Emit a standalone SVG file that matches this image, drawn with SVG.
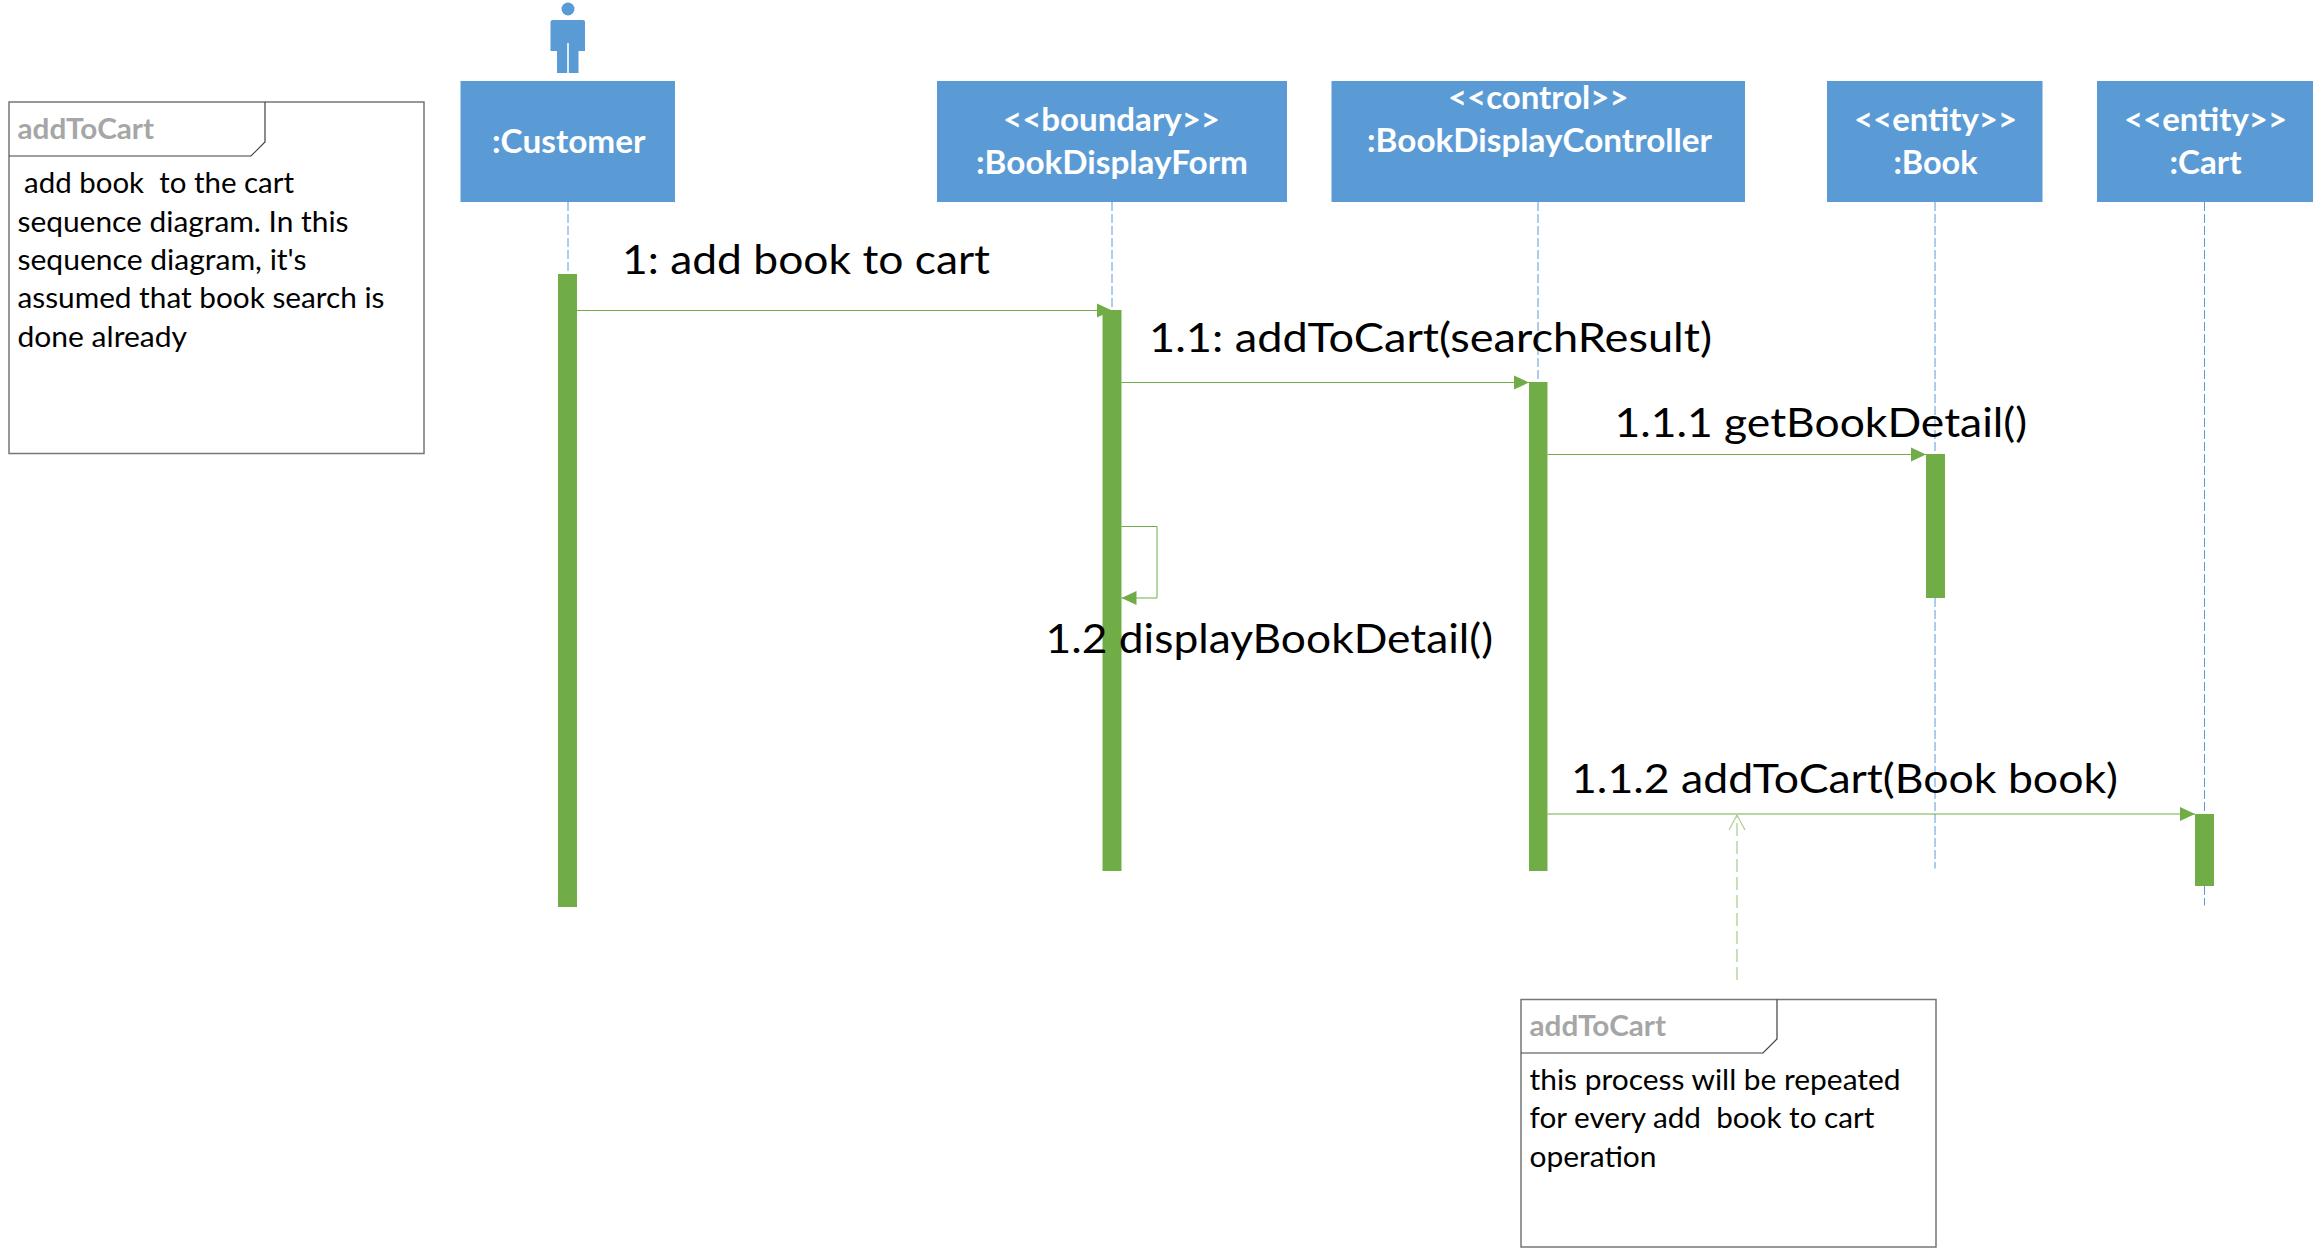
<svg xmlns="http://www.w3.org/2000/svg" width="2314" height="1249" viewBox="0 0 2314 1249">
<style>
text{font-family:Lato,"Liberation Sans",sans-serif;white-space:pre}
.box{fill:#5B9BD5}
.bt{fill:#fff;font-weight:700;font-size:33px}
.life{stroke:#5B9BD5;stroke-width:1;stroke-dasharray:9 3;fill:none}
.bar{fill:#70AD47}
.msg{stroke:#70AD47;stroke-width:1;fill:none}
.lab{fill:#000;font-size:41px}
.note{fill:#fff;stroke:#767676;stroke-width:1.5}
.tab{fill:none;stroke:#404040;stroke-width:1.2}
.nt{fill:#A6A6A6;font-weight:700;font-size:28px}
.nb{fill:#000;font-size:29px}
</style>
<defs>
<marker id="tri" markerUnits="userSpaceOnUse" markerWidth="15" markerHeight="15" refX="15" refY="7.5" orient="auto"><path d="M0 0.5L15 7.5L0 14.5Z" fill="#70AD47"/></marker>
<marker id="open" markerUnits="userSpaceOnUse" markerWidth="18" markerHeight="18" refX="16" refY="9" orient="auto"><path d="M1 1L16 9L1 17" fill="none" stroke="#A9D18E" stroke-width="1.2"/></marker>
</defs>
<g id="lifelines">
<path class="life" d="M568 202V274"/>
<path class="life" d="M1112 202V310"/>
<path class="life" d="M1538 202V382"/>
<path class="life" d="M1935 202V868.500"/>
<path class="life" d="M2204.500 202V905.500"/>
</g>
<g id="actor" fill="#5B9BD5">
<circle cx="568" cy="9" r="6.500"/>
<path d="M553 20H583Q585 20 585 22V51H578.500V73H568.800V43H567.200V73H557V51H550.500V22Q550.500 20 553 20Z"/>
</g>
<g id="customer"><rect class="box" x="460.500" y="81" width="214.500" height="121"/><text class="bt" x="492" y="153" textLength="153.500" lengthAdjust="spacingAndGlyphs">:Customer</text></g>
<g id="boundary"><rect class="box" x="937" y="81" width="350" height="121"/><text class="bt" x="1003" y="131" textLength="217" lengthAdjust="spacingAndGlyphs">&lt;&lt;boundary&gt;&gt;</text><text class="bt" x="976" y="174" textLength="272" lengthAdjust="spacingAndGlyphs">:BookDisplayForm</text></g>
<g id="control"><rect class="box" x="1331.500" y="81" width="413.500" height="121"/><text class="bt" x="1448" y="109" textLength="180.500" lengthAdjust="spacingAndGlyphs">&lt;&lt;control&gt;&gt;</text><text class="bt" x="1367" y="152" textLength="345" lengthAdjust="spacingAndGlyphs">:BookDisplayController</text></g>
<g id="book"><rect class="box" x="1827" y="81" width="215.500" height="121"/><text class="bt" x="1854" y="131" textLength="163" lengthAdjust="spacingAndGlyphs">&lt;&lt;entity&gt;&gt;</text><text class="bt" x="1893.500" y="174" textLength="84" lengthAdjust="spacingAndGlyphs">:Book</text></g>
<g id="cart"><rect class="box" x="2097" y="81" width="216" height="121"/><text class="bt" x="2124" y="131" textLength="163" lengthAdjust="spacingAndGlyphs">&lt;&lt;entity&gt;&gt;</text><text class="bt" x="2169.500" y="174" textLength="72" lengthAdjust="spacingAndGlyphs">:Cart</text></g>
<g id="activations">
<rect class="bar" x="558" y="274" width="19" height="633"/>
<rect class="bar" x="1102.500" y="310" width="19" height="561"/>
<rect class="bar" x="1529" y="382" width="18.500" height="489"/>
<rect class="bar" x="1926" y="454" width="19" height="144"/>
<rect class="bar" x="2195" y="814" width="19" height="72"/>
</g>
<g id="connectors">
<path class="msg" d="M577 310.500H1112" marker-end="url(#tri)"/>
<path class="msg" d="M1121.500 382.500H1529" marker-end="url(#tri)"/>
<path class="msg" d="M1547.500 454.500H1926" marker-end="url(#tri)"/>
<path class="msg" d="M1121.500 526.500H1157V598H1121.500" marker-end="url(#tri)"/>
<path class="msg" d="M1547.500 814H2195" marker-end="url(#tri)"/>
<path d="M1737 980V815" fill="none" stroke="#A9D18E" stroke-width="1.300" stroke-dasharray="13 5" marker-end="url(#open)"/>
</g>
<g id="labels">
<text class="lab" x="622" y="274" textLength="368" lengthAdjust="spacingAndGlyphs">1: add book to cart</text>
<text class="lab" x="1149" y="352" textLength="563" lengthAdjust="spacingAndGlyphs">1.1: addToCart(searchResult)</text>
<text class="lab" x="1614.500" y="437" textLength="412.500" lengthAdjust="spacingAndGlyphs">1.1.1 getBookDetail()</text>
<text class="lab" x="1045.500" y="653" textLength="447.500" lengthAdjust="spacingAndGlyphs">1.2 displayBookDetail()</text>
<text class="lab" x="1571" y="793" textLength="547" lengthAdjust="spacingAndGlyphs">1.1.2 addToCart(Book book)</text>
</g>
<g id="note1">
<rect class="note" x="9" y="102" width="415" height="351.500"/>
<path class="tab" d="M9 156H251L265 142V102"/>
<text class="nt" x="17.500" y="139" textLength="136.500" lengthAdjust="spacingAndGlyphs">addToCart</text>
<text class="nb" x="24" y="193" textLength="270" lengthAdjust="spacingAndGlyphs">add book  to the cart</text>
<text class="nb" x="17.500" y="231.500" textLength="331" lengthAdjust="spacingAndGlyphs">sequence diagram. In this</text>
<text class="nb" x="17.500" y="270" textLength="289" lengthAdjust="spacingAndGlyphs">sequence diagram, it's</text>
<text class="nb" x="17.500" y="308" textLength="367" lengthAdjust="spacingAndGlyphs">assumed that book search is</text>
<text class="nb" x="17.500" y="347" textLength="169.500" lengthAdjust="spacingAndGlyphs">done already</text>
</g>
<g id="note2">
<rect class="note" x="1521" y="999.500" width="415" height="247.500"/>
<path class="tab" d="M1521 1053H1763L1777 1039V999.500"/>
<text class="nt" x="1529.500" y="1035.500" textLength="136.500" lengthAdjust="spacingAndGlyphs">addToCart</text>
<text class="nb" x="1529.500" y="1089.500" textLength="371" lengthAdjust="spacingAndGlyphs">this process will be repeated</text>
<text class="nb" x="1529.500" y="1128" textLength="345" lengthAdjust="spacingAndGlyphs">for every add  book to cart</text>
<text class="nb" x="1529.500" y="1166.500" textLength="127" lengthAdjust="spacingAndGlyphs">operation</text>
</g>
</svg>
